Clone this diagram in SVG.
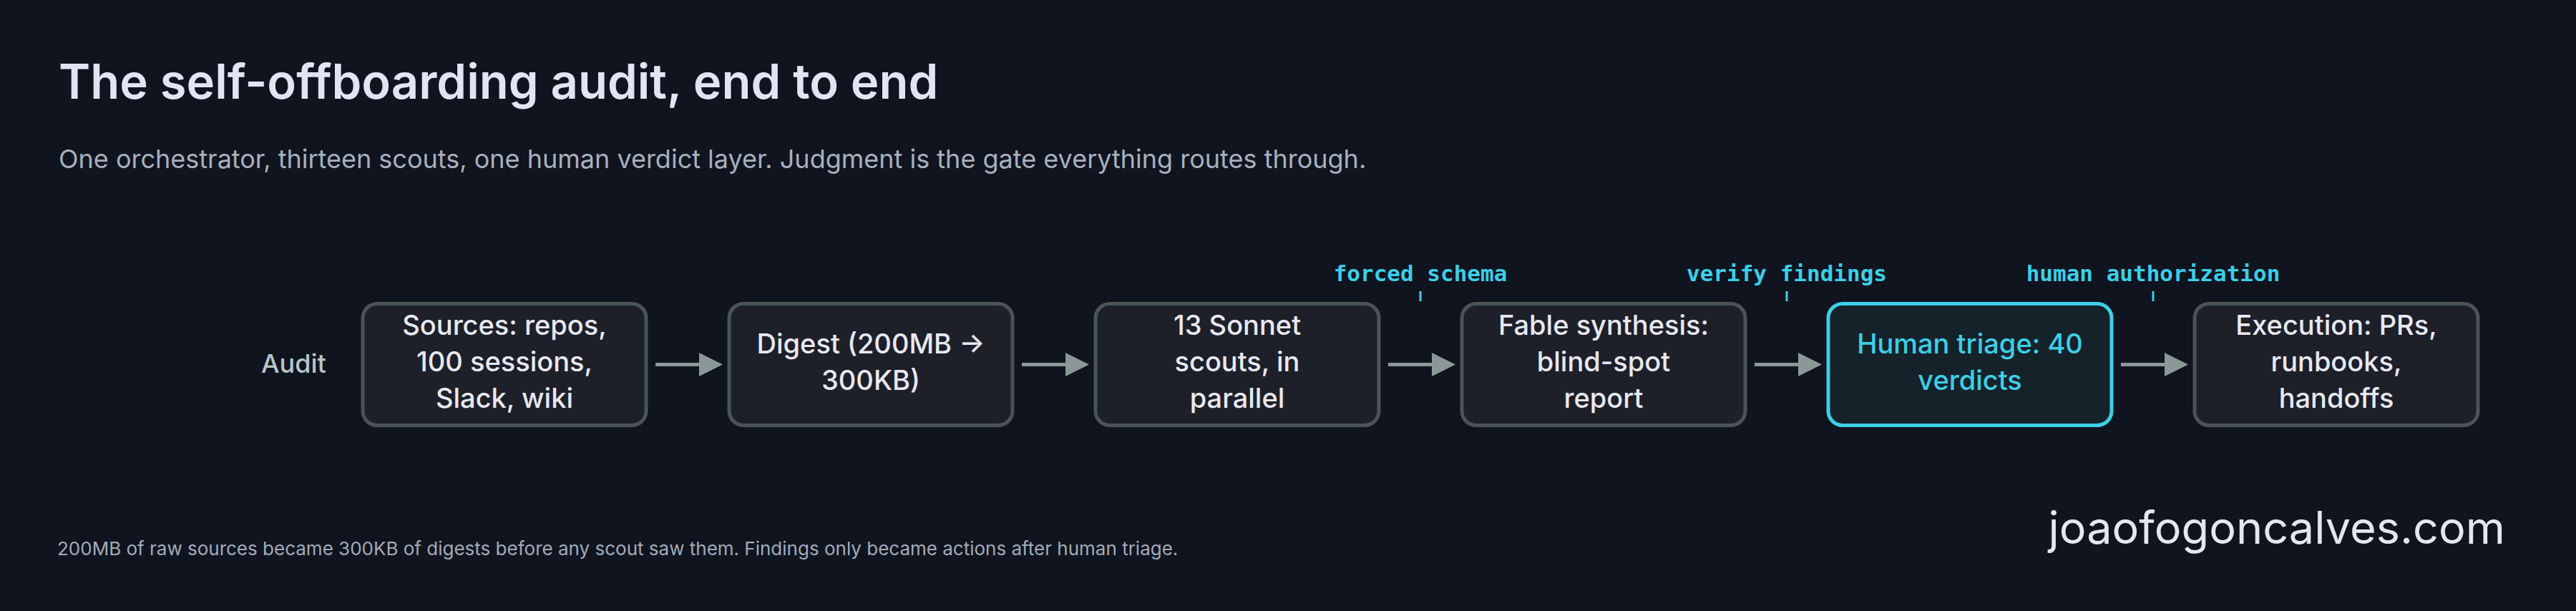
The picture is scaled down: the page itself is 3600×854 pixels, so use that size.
<svg xmlns="http://www.w3.org/2000/svg" width="3600" height="854" viewBox="0 0 3600 854">
<defs>
<style>
.bg{fill:#0f141f}
.title{font-family:Inter,"Noto Sans",sans-serif;font-weight:600;font-size:67px;fill:#e1e4f2}
.sub{font-family:Inter,"Noto Sans",sans-serif;font-size:36px;fill:#a8b0bd}
.foot{font-family:Inter,"Noto Sans",sans-serif;font-size:26px;fill:#a3abb8}
.mark{font-family:Inter,"Noto Sans",sans-serif;font-size:63px;fill:#e5e7ec}
.lane{font-family:Inter,"Noto Sans",sans-serif;font-size:36px;fill:#b9c5c8;font-weight:500}
.box{fill:#1d2029;stroke:#4a5457;stroke-width:5}
.hl{fill:#15222a;stroke:#3dcfe6;stroke-width:5}
.nt{font-family:Inter,"Noto Sans",sans-serif;font-size:38px;font-weight:500;fill:#e8e8f2;text-anchor:middle}
.nth{font-family:Inter,"Noto Sans",sans-serif;font-size:38px;font-weight:500;fill:#3dcfe6;text-anchor:middle}
.gl{font-family:"DejaVu Sans Mono","Liberation Mono",monospace;font-size:31px;font-weight:bold;fill:#3dcfe6;text-anchor:middle}
.tick{stroke:#3dcfe6;stroke-width:3}
.edge{stroke:#8a9997;stroke-width:5;fill:none}
.head{fill:#8a9997}
</style>
</defs>
<rect class="bg" x="0" y="0" width="3600" height="854"/>
<text class="title" x="82" y="138">The self-offboarding audit, end to end</text>
<text class="sub" x="82" y="235">One orchestrator, thirteen scouts, one human verdict layer. Judgment is the gate everything routes through.</text>
<text class="lane" x="365" y="521">Audit</text>

<g id="connectors">
<line class="edge" x1="916" y1="509.5" x2="980" y2="509.5"/><polygon class="head" points="977,493 1010,509.5 977,526"/>
<line class="edge" x1="1428" y1="509.5" x2="1492" y2="509.5"/><polygon class="head" points="1489,493 1522,509.5 1489,526"/>
<line class="edge" x1="1940" y1="509.5" x2="2004" y2="509.5"/><polygon class="head" points="2001,493 2034,509.5 2001,526"/>
<line class="edge" x1="2452" y1="509.5" x2="2516" y2="509.5"/><polygon class="head" points="2513,493 2546,509.5 2513,526"/>
<line class="edge" x1="2964" y1="509.5" x2="3028" y2="509.5"/><polygon class="head" points="3025,493 3058,509.5 3025,526"/>
</g>

<g id="gate-labels">
<text class="gl" x="1985" y="393">forced schema</text><line class="tick" x1="1985" y1="407" x2="1985" y2="421"/>
<text class="gl" x="2497" y="393">verify findings</text><line class="tick" x1="2497" y1="407" x2="2497" y2="421"/>
<text class="gl" x="3009" y="393">human authorization</text><line class="tick" x1="3009" y1="407" x2="3009" y2="421"/>
</g>

<g id="n-sources">
<rect class="box" x="507" y="424.5" width="396" height="170" rx="20"/>
<text class="nt" x="705" y="468">Sources: repos,</text>
<text class="nt" x="705" y="519">100 sessions,</text>
<text class="nt" x="705" y="570">Slack, wiki</text>
</g>
<g id="n-digest">
<rect class="box" x="1019" y="424.5" width="396" height="170" rx="20"/>
<text class="nt" x="1217" y="494">Digest (200MB →</text>
<text class="nt" x="1217" y="545">300KB)</text>
</g>
<g id="n-scouts">
<rect class="box" x="1531" y="424.5" width="396" height="170" rx="20"/>
<text class="nt" x="1729" y="468">13 Sonnet</text>
<text class="nt" x="1729" y="519">scouts, in</text>
<text class="nt" x="1729" y="570">parallel</text>
</g>
<g id="n-fable">
<rect class="box" x="2043" y="424.5" width="396" height="170" rx="20"/>
<text class="nt" x="2241" y="468">Fable synthesis:</text>
<text class="nt" x="2241" y="519">blind-spot</text>
<text class="nt" x="2241" y="570">report</text>
</g>
<g id="n-triage">
<rect class="hl" x="2555" y="424.5" width="396" height="170" rx="20"/>
<text class="nth" x="2753" y="494">Human triage: 40</text>
<text class="nth" x="2753" y="545">verdicts</text>
</g>
<g id="n-exec">
<rect class="box" x="3067" y="424.5" width="396" height="170" rx="20"/>
<text class="nt" x="3265" y="468">Execution: PRs,</text>
<text class="nt" x="3265" y="519">runbooks,</text>
<text class="nt" x="3265" y="570">handoffs</text>
</g>

<text class="foot" x="80" y="776">200MB of raw sources became 300KB of digests before any scout saw them. Findings only became actions after human triage.</text>
<text class="mark" x="3501" y="760" text-anchor="end">joaofogoncalves.com</text>
</svg>
